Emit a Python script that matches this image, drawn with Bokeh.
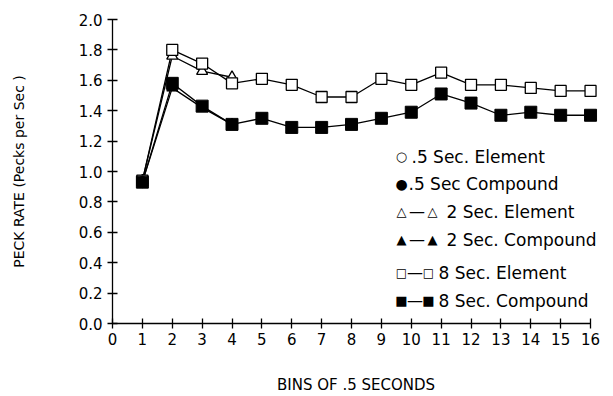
from bokeh.plotting import figure
from bokeh.models import Range1d, FixedTicker, NumeralTickFormatter, Label
from bokeh.embed import file_html
from bokeh.resources import INLINE

# ---- data ----
bins8 = list(range(1, 17))
el8 = [0.94, 1.80, 1.71, 1.58, 1.61, 1.57, 1.49, 1.49, 1.61, 1.57, 1.65, 1.57, 1.57, 1.55, 1.53, 1.53]
co8 = [0.93, 1.58, 1.43, 1.31, 1.35, 1.29, 1.29, 1.31, 1.35, 1.39, 1.51, 1.45, 1.37, 1.39, 1.37, 1.37]
bins2 = [1, 2, 3, 4]
el2 = [0.94, 1.76, 1.66, 1.62]
co2 = [0.93, 1.55, 1.42, 1.31]
bins05 = [1]
el05 = [0.94]
co05 = [0.93]
x_ticks = list(range(0, 17))
y_ticks = [0.0, 0.2, 0.4, 0.6, 0.8, 1.0, 1.2, 1.4, 1.6, 1.8, 2.0]

FONT = "DejaVu Sans"

p = figure(width=605, height=396, output_backend="svg", toolbar_location=None,
           x_range=Range1d(0, 16.3), y_range=Range1d(0, 2.0),
           min_border_left=112, min_border_right=6, min_border_top=19, min_border_bottom=73)
p.outline_line_color = None
p.grid.visible = False

for ax in (p.xaxis[0], p.yaxis[0]):
    ax.axis_line_width = 1.3
    ax.major_tick_line_width = 1.3
    ax.major_tick_in = 5
    ax.major_tick_out = 5
    ax.minor_tick_line_color = None
    ax.major_label_text_font = FONT
    ax.major_label_text_font_size = "15px"
    ax.major_label_text_color = "black"
    ax.axis_label_text_font = FONT
    ax.axis_label_text_font_style = "normal"
    ax.axis_label_text_color = "black"
    ax.axis_line_color = "black"
    ax.major_tick_line_color = "black"

p.xaxis[0].ticker = FixedTicker(ticks=x_ticks)
p.xaxis[0].bounds = (0, 16)
p.xaxis[0].major_label_standoff = 4
p.xaxis[0].axis_label = "BINS OF .5 SECONDS"
p.xaxis[0].axis_label_text_font_size = "15px"
p.xaxis[0].axis_label_standoff = 28

p.yaxis[0].ticker = FixedTicker(ticks=y_ticks)
p.yaxis[0].formatter = NumeralTickFormatter(format="0.0")
p.yaxis[0].bounds = (0, 2.0)
p.yaxis[0].major_label_standoff = 5
p.yaxis[0].axis_label = "PECK RATE (Pecks per Sec )"
p.yaxis[0].axis_label_text_font_size = "14px"
p.yaxis[0].axis_label_standoff = 49

LW = 1.3
# lines
p.line(bins2, el2, line_color="black", line_width=LW)
p.line(bins8, el8, line_color="black", line_width=LW)
p.line(bins2, co2, line_color="black", line_width=LW)
p.line(bins8, co8, line_color="black", line_width=LW)

# markers
p.scatter(bins05, el05, marker="circle", size=10, fill_color="white", line_color="black", line_width=LW)
p.scatter(bins2, el2, marker="triangle", size=11, fill_color="white", line_color="black", line_width=LW)
p.scatter(bins8, el8, marker="square", size=11, fill_color="white", line_color="black", line_width=LW)
p.scatter(bins05, co05, marker="circle", size=11, fill_color="black", line_color="black")
p.scatter(bins2, co2, marker="triangle", size=11, fill_color="black", line_color="black")
p.scatter(bins8, co8, marker="square", size=12, fill_color="black", line_color="black")

# legend built from labels (screen units relative to the frame)
def lab(x, y, t, size="17px", align="left"):
    p.add_layout(Label(x=x, y=y, x_units="screen", y_units="screen", text=t,
                       text_font=FONT, text_font_size=size, text_align=align,
                       text_baseline="middle", text_color="black"))

rows = [
    (167, "\u25CB", None, ".5 Sec. Element", 289, None, 299, "13px"),
    (140, "\u25CF", None, ".5 Sec Compound", 289, None, 296, "14px"),
    (112, "\u25B3", "\u25B3", "2 Sec. Element", 289, 320, 334, "13px"),
    (84, "\u25B2", "\u25B2", "2 Sec. Compound", 289, 320, 334, "13px"),
    (51, "\u25A1", "\u25A1", "8 Sec. Element", 289, 316, 326, "12px"),
    (23, "\u25A0", "\u25A0", "8 Sec. Compound", 289, 316, 326, "13px"),
]
for y, m1, m2, txt, x1, x2, xt, msize in rows:
    lab(x1, y, m1, size=msize, align="center")
    if m2:
        lab((x1 + x2) / 2, y, "\u2014", size="16px", align="center")
        lab(x2, y, m2, size=msize, align="center")
    lab(xt, y, txt)

open("out.html", "w").write(file_html(p, INLINE))
